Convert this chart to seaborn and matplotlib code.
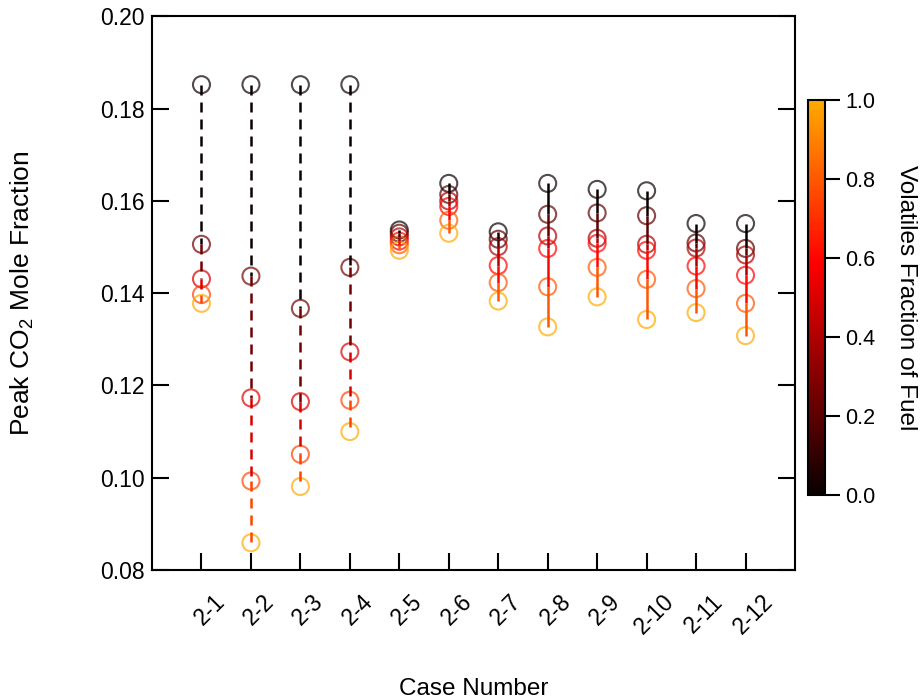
import numpy as np
import pandas as pd
import matplotlib
matplotlib.use('Agg')
import matplotlib.pyplot as plt
import matplotlib.transforms as mtransforms
import seaborn as sns
from matplotlib.colors import LinearSegmentedColormap, Normalize
from matplotlib.cm import ScalarMappable

# ---------------- data ----------------
cases = ['2-1', '2-2', '2-3', '2-4', '2-5', '2-6',
         '2-7', '2-8', '2-9', '2-10', '2-11', '2-12']
frac5 = [0.0, 0.25, 0.5, 0.75, 1.0]
frac6 = [0.0, 0.2, 0.4, 0.6, 0.8, 1.0]

c2_1 = [0.1852, 0.1506, 0.1431, 0.1397, 0.1378]
c2_2 = [0.1852, 0.1437, 0.1173, 0.0993, 0.0859]
c2_3 = [0.1852, 0.1367, 0.1165, 0.1051, 0.0981]
c2_4 = [0.1852, 0.1456, 0.1273, 0.1168, 0.1100]
c2_5 = [0.1537, 0.1530, 0.1522, 0.1513, 0.1505, 0.1493]
c2_6 = [0.1638, 0.1614, 0.1600, 0.1588, 0.1558, 0.1530]
c2_7 = [0.1533, 0.1517, 0.1501, 0.1460, 0.1423, 0.1383]
c2_8 = [0.1638, 0.1571, 0.1524, 0.1497, 0.1414, 0.1327]
c2_9 = [0.1625, 0.1574, 0.1519, 0.1508, 0.1456, 0.1392]
c2_10 = [0.1622, 0.1568, 0.1506, 0.1493, 0.1430, 0.1343]
c2_11 = [0.1551, 0.1509, 0.1498, 0.1459, 0.1410, 0.1358]
c2_12 = [0.1551, 0.1497, 0.1483, 0.1439, 0.1378, 0.1308]
values = [c2_1, c2_2, c2_3, c2_4, c2_5, c2_6,
          c2_7, c2_8, c2_9, c2_10, c2_11, c2_12]
dashed_cases = ['2-1', '2-2', '2-3', '2-4']
cbar_ticks = [0.0, 0.2, 0.4, 0.6, 0.8, 1.0]

rows = []
for i, (case, vals) in enumerate(zip(cases, values)):
    fr = frac5 if len(vals) == 5 else frac6
    for f, v in zip(fr, vals):
        rows.append(dict(case=case, idx=i, frac=f, co2=v))
df = pd.DataFrame(rows)

# ---------------- style ----------------
sns.set_theme(style='ticks')
plt.rcParams['font.family'] = ['Liberation Sans', 'DejaVu Sans']
plt.rcParams['mathtext.fontset'] = 'custom'
plt.rcParams['mathtext.rm'] = 'Liberation Sans'
plt.rcParams['mathtext.it'] = 'Liberation Sans:italic'
plt.rcParams['mathtext.bf'] = 'Liberation Sans:bold'
plt.rcParams['text.color'] = 'black'
plt.rcParams['axes.labelcolor'] = 'black'
plt.rcParams['xtick.color'] = 'black'
plt.rcParams['ytick.color'] = 'black'

hot = plt.get_cmap('hot')
cmap = LinearSegmentedColormap.from_list('hot_trunc', hot(np.linspace(0, 0.62, 256)))
norm = Normalize(0, 1)

fig = plt.figure(figsize=(9.23, 7), dpi=100)
ax = fig.add_axes([0.1647, 0.1857, 0.6966, 0.7909])

# connecting lines, one segment per pair of neighbours, coloured by upper point
for case, g in df.groupby('case', sort=False):
    g = g.sort_values('co2', ascending=False)
    ys = g['co2'].to_numpy()
    xs = g['idx'].to_numpy()
    fs = g['frac'].to_numpy()
    ls = (0, (4.0, 2.8)) if case in dashed_cases else '-'
    for j in range(len(ys) - 1):
        ax.plot([xs[j], xs[j + 1]], [ys[j], ys[j + 1]], color=cmap(norm(fs[j])),
                lw=1.8, ls=ls, solid_capstyle='butt', zorder=3)

sns.scatterplot(data=df, x='idx', y='co2', hue='frac', palette=cmap, hue_norm=(0, 1),
                s=150, linewidth=1.5, legend=False, ax=ax, zorder=2)
pts = ax.collections[-1]
fc = pts.get_facecolors()
pts.set_edgecolors(fc)
pts.set_facecolors('none')
pts.set_alpha(0.7)

ax.set_xlim(-1, 12)
ax.set_ylim(0.08, 0.20)
ax.set_xticks(range(len(cases)))
ax.set_xticklabels(cases, rotation=45, ha='center')
ax.set_yticks(np.round(np.arange(0.08, 0.2001, 0.02), 2))
ax.set_yticklabels([f'{t:.2f}' for t in np.arange(0.08, 0.2001, 0.02)])
ax.tick_params(direction='in', length=12, width=1.5, right=True, top=False,
               labelsize=16.5, colors='black')
ax.tick_params(axis='x', pad=12)
ax.tick_params(axis='y', pad=5)
offset = mtransforms.ScaledTranslation(8 / 100, -3 / 100, fig.dpi_scale_trans)
for lab in ax.get_xticklabels():
    lab.set_transform(lab.get_transform() + offset)
for sp in ax.spines.values():
    sp.set_visible(True)
    sp.set_linewidth(1.5)
    sp.set_color('black')

ax.set_xlabel('Case Number', fontsize=17.5, color='black')
ax.set_ylabel('Peak CO$_2$ Mole Fraction', fontsize=19, color='black')
ax.xaxis.set_label_coords(0.5, -0.195)
ax.yaxis.set_label_coords(-0.18, 0.5)

# colorbar
cax = fig.add_axes([0.8754, 0.2929, 0.0184, 0.5643])
sm = ScalarMappable(norm=norm, cmap=cmap)
cb = fig.colorbar(sm, cax=cax, ticks=cbar_ticks)
cb.ax.set_yticklabels([f'{t:.1f}' for t in cbar_ticks])
cb.ax.tick_params(length=11, width=1.5, labelsize=15.5, direction='out', colors='black')
cb.outline.set_linewidth(1.5)
cb.outline.set_edgecolor('black')
cb.ax.set_ylabel('Volatiles Fraction of Fuel', fontsize=17.5, rotation=270, va='bottom',
                 color='black')
cb.ax.yaxis.set_label_coords(5.1, 0.5)

fig.savefig('out.png', dpi=100)
